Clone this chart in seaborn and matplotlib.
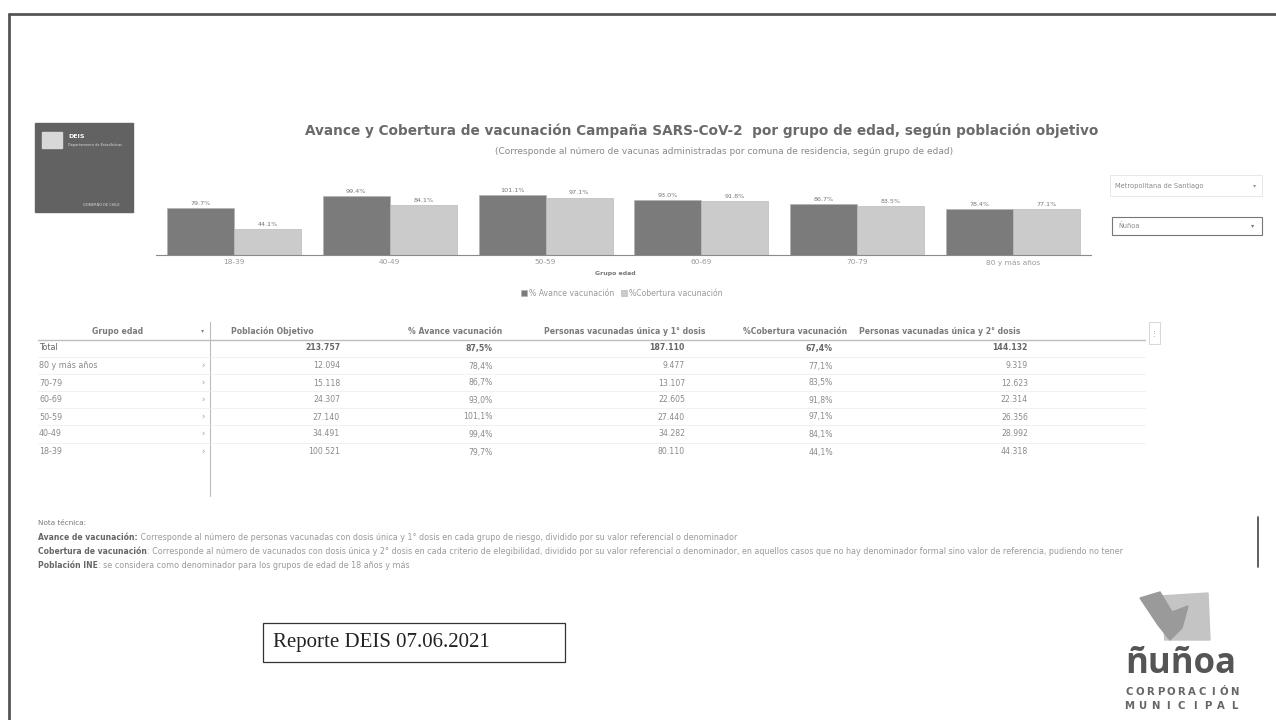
import numpy as np
import pandas as pd
import seaborn as sns
import matplotlib.pyplot as plt
from matplotlib.patches import Rectangle, Polygon

sns.set_theme(style="white")
plt.rcParams['font.family'] = ['DejaVu Sans']

# datos del grafico
grupos = ['18-39', '40-49', '50-59', '60-69', '70-79', '80 y más años']
avance = [79.7, 99.4, 101.1, 93.0, 86.7, 78.4]
cobertura = [44.1, 84.1, 97.1, 91.8, 83.5, 77.1]
series = ['% Avance vacunación', '%Cobertura vacunación']

# datos de la tabla (Total + grupos de mayor a menor)
filas = ['Total', '80 y más años', '70-79', '60-69', '50-59', '40-49', '18-39']
poblacion = [213757, 12094, 15118, 24307, 27140, 34491, 100521]
avance_tabla = [87.5] + avance[::-1]
dosis1 = [187110, 9477, 13107, 22605, 27440, 34282, 80110]
cobertura_tabla = [67.4] + cobertura[::-1]
dosis2 = [144132, 9319, 12623, 22314, 26356, 28992, 44318]
columnas = ['Grupo edad', 'Población Objetivo', '% Avance vacunación',
            'Personas vacunadas única y 1° dosis', '%Cobertura vacunación',
            'Personas vacunadas única y 2° dosis']

W, H = 1276, 720
fig = plt.figure(figsize=(W / 100, H / 100), dpi=100)
fig.patch.set_facecolor('white')

# capa para todo lo que no es grafico, en pixeles
bg = fig.add_axes([0, 0, 1, 1], zorder=0)
bg.set_xlim(0, W)
bg.set_ylim(H, 0)
bg.axis('off')

gris = '#6a6a6a'

# marco de la hoja escaneada
bg.plot([9, W], [14, 14], color='#555555', lw=2)
bg.plot([9, 9], [14, H], color='#555555', lw=2)

# logo DEIS
bg.add_patch(Rectangle((35, 123), 98, 89, color='#626262'))
bg.add_patch(Rectangle((42, 132), 20, 16, color='#d8d8d8'))
bg.text(68, 137, 'DEIS', color='white', fontsize=4.5, fontweight='bold', va='center')
bg.text(68, 145, 'Departamento de Estadísticas', color='#dddddd', fontsize=2.5, va='center')
bg.text(120, 205, 'GOBIERNO DE CHILE', color='#dddddd', fontsize=2.5, va='center', ha='right')

# titulo
bg.text(702, 131, 'Avance y Cobertura de vacunación Campaña SARS-CoV-2  por grupo de edad, según población objetivo',
        ha='center', va='center', fontsize=9.8, fontweight='bold', color=gris)
bg.text(724, 151, '(Corresponde al número de vacunas administradas por comuna de residencia, según grupo de edad)',
        ha='center', va='center', fontsize=6.5, color='#888888')

# selectores
bg.add_patch(Rectangle((1110, 175), 152, 21, fill=False, ec='#e4e4e4', lw=0.6))
bg.text(1115, 186, 'Metropolitana de Santiago', fontsize=4.8, color='#8a8a8a', va='center')
bg.text(1255, 186, '▾', fontsize=4.5, color='#999999', va='center', ha='center')
bg.add_patch(Rectangle((1112, 217), 150, 18, fill=False, ec='#777777', lw=0.8))
bg.text(1118, 226, 'Ñuñoa', fontsize=4.8, color='#8a8a8a', va='center')
bg.text(1253, 226, '▾', fontsize=4.5, color='#777777', va='center', ha='center')

# grafico de barras
df = pd.DataFrame({
    'Grupo edad': grupos * 2,
    'serie': [series[0]] * len(grupos) + [series[1]] * len(grupos),
    'valor': avance + cobertura,
})
ax = fig.add_axes([156 / W, 1 - 255 / H, 935 / W, 71 / H], zorder=2)
ax.patch.set_alpha(0)
sns.barplot(data=df, x='Grupo edad', y='valor', hue='serie', order=grupos, hue_order=series,
            palette=['#7b7b7b', '#cbcbcb'], width=0.86, ax=ax, errorbar=None,
            edgecolor='#b0b0b0', linewidth=0.4)
for cont in ax.containers:
    ax.bar_label(cont, labels=[f'{v:.1f}%' for v in cont.datavalues], fontsize=4.6,
                 color='#777777', padding=1.5)
ax.set_ylim(0, 120)
ax.set_yticks([])
ax.set_ylabel('')
ax.set_xlabel('')
ax.tick_params(axis='x', labelsize=5.3, labelcolor='#999999', length=0, pad=3)
for s in ['top', 'right', 'left']:
    ax.spines[s].set_visible(False)
ax.spines['bottom'].set_color('#8a8a8a')
ax.spines['bottom'].set_linewidth(0.8)
bg.text(615, 273, 'Grupo edad', ha='center', va='center', fontsize=4.5, fontweight='bold', color='#777777')
ax.legend(loc='center', bbox_to_anchor=(622 / W, 1 - 293 / H), bbox_transform=fig.transFigure,
          ncol=2, frameon=False, fontsize=5.6, handlelength=0.8, handleheight=0.8,
          columnspacing=0.8, handletextpad=0.3, labelcolor='#999999')

# tabla
y_head = 331
y_filas = [348, 366, 383, 400, 417, 434, 452]
x_val = [340, 493, 685, 833, 1028]
x_head = [118, 272, 455, 625, 795, 940]
for i, c in enumerate(columnas):
    bg.text(x_head[i], y_head, c, ha='center', va='center', fontsize=5.6, fontweight='bold', color='#7a7a7a')
bg.text(203, y_head, '▾', ha='center', va='center', fontsize=4.5, color='#888888')
bg.plot([38, 1145], [340, 340], color='#bdbdbd', lw=1.0)
bg.plot([210, 210], [322, 496], color='#bdbdbd', lw=0.8)
bg.add_patch(Rectangle((1149, 322), 11, 22, fill=False, ec='#d0d0d0', lw=0.6))
bg.text(1154.5, 333, '⋮', ha='center', va='center', fontsize=5, color='#999999')


def miles(n):
    return f'{n:,}'.replace(',', '.')


for k, y in enumerate(y_filas):
    total = k == 0
    peso = 'bold' if total else 'normal'
    col = '#666666' if total else '#8a8a8a'
    bg.text(39, y, filas[k], ha='left', va='center', fontsize=5.8, color=col)
    if not total:
        bg.text(203, y, '›', ha='center', va='center', fontsize=6, color='#999999')
    valores = [miles(poblacion[k]), f'{avance_tabla[k]:.1f}%'.replace('.', ','), miles(dosis1[k]),
               f'{cobertura_tabla[k]:.1f}%'.replace('.', ','), miles(dosis2[k])]
    for x, v in zip(x_val, valores):
        bg.text(x, y, v, ha='right', va='center', fontsize=5.6, color=col, fontweight=peso)
    if k > 0:
        bg.plot([38, 1145], [y - 9, y - 9], color='#ececec', lw=0.5)

# nota tecnica
notas = [
    ('Avance de vacunación:', ' Corresponde al número de personas vacunadas con dosis única y 1° dosis en cada grupo de riesgo, dividido por su valor referencial o denominador'),
    ('Cobertura de vacunación', ': Corresponde al número de vacunados con dosis única y 2° dosis en cada criterio de elegibilidad, dividido por su valor referencial o denominador, en aquellos casos que no hay denominador formal sino valor de referencia, pudiendo no tener'),
    ('Población INE', ': se considera como denominador para los grupos de edad de 18 años y más'),
]
bg.text(38, 523, 'Nota técnica:', fontsize=5.2, color='#777777', va='center')
fig.canvas.draw()
r = fig.canvas.get_renderer()
for i, (b, t) in enumerate(notas):
    y = 537 + i * 14.3
    tb = bg.text(38, y, b, fontsize=5.5, fontweight='bold', color='#666666', va='center')
    ext = tb.get_window_extent(renderer=r)
    bg.text(ext.x1, y, t, fontsize=5.75, color='#9a9a9a', va='center')
bg.plot([1258, 1258], [517, 567], color='#444444', lw=1.2)

# recuadro del reporte
bg.add_patch(Rectangle((263, 623), 302, 39, fill=False, ec='#333333', lw=0.9))
bg.text(273, 643, 'Reporte DEIS 07.06.2021', fontsize=15, family='Liberation Serif',
        color='#222222', va='center')

# logo Ñuñoa
bg.add_patch(Polygon([[1160, 596], [1208, 593], [1210, 640], [1165, 640]], closed=True, color='#c4c4c4'))
bg.add_patch(Polygon([[1140, 598], [1160, 592], [1172, 612], [1188, 606], [1182, 628],
                      [1170, 640], [1158, 625]], closed=True, color='#9a9a9a'))
bg.text(1181, 664, 'ñuñoa', ha='center', va='center', fontsize=25, fontweight='bold',
        family='Open Sans', color='#555555')
for palabra, y in [('CORPORACIÓN', 692), ('MUNICIPAL', 706)]:
    xs = np.linspace(1129, 1234, len(palabra))
    for x, ch in zip(xs, palabra):
        bg.text(x, y, ch, ha='center', va='center', fontsize=7.3, fontweight='bold', color='#666666')

fig.savefig('out.png', dpi=100, facecolor='white')
